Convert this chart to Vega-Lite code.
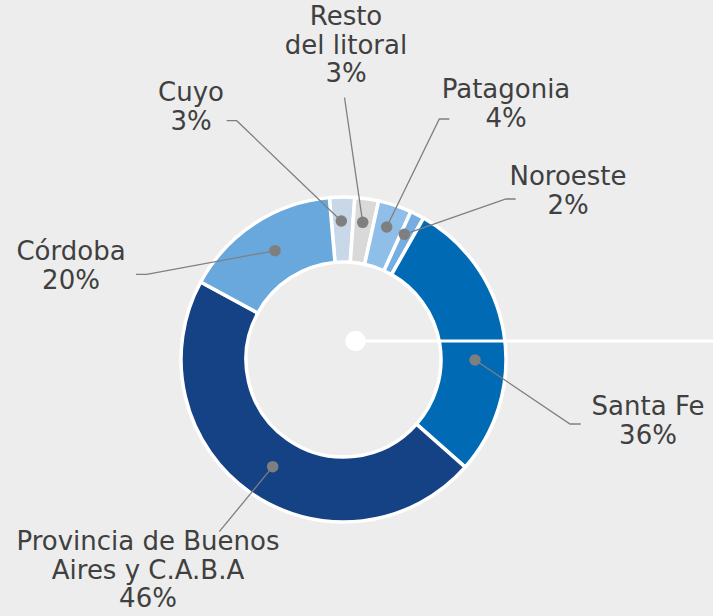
{
  "$schema": "https://vega.github.io/schema/vega-lite/v6.json",
  "width": 713,
  "height": 616,
  "padding": 0,
  "autosize": {"type": "none"},
  "background": "#ededed",
  "config": {"view": {"stroke": null}},
  "datasets": {
    "slices": [
      {"region": "Cuyo", "deg": 9, "ord": 1},
      {"region": "Resto del litoral", "deg": 8.5, "ord": 2},
      {"region": "Patagonia", "deg": 12, "ord": 3},
      {"region": "Noroeste", "deg": 5, "ord": 4},
      {"region": "Santa Fe", "deg": 102, "ord": 5},
      {"region": "Provincia de Buenos Aires y C.A.B.A", "deg": 167, "ord": 6},
      {"region": "Córdoba", "deg": 56.5, "ord": 7}
    ],
    "leaders": [
      {"region": "Cuyo", "i": 0, "x": 341.3, "y": 221},
      {"region": "Cuyo", "i": 1, "x": 236.7, "y": 120.7},
      {"region": "Cuyo", "i": 2, "x": 226.7, "y": 120.7},
      {"region": "Resto del litoral", "i": 0, "x": 362.7, "y": 222.3},
      {"region": "Resto del litoral", "i": 1, "x": 344.5, "y": 97.5},
      {"region": "Patagonia", "i": 0, "x": 386.7, "y": 227},
      {"region": "Patagonia", "i": 1, "x": 439.3, "y": 119},
      {"region": "Patagonia", "i": 2, "x": 449.3, "y": 119},
      {"region": "Noroeste", "i": 0, "x": 404.3, "y": 234.3},
      {"region": "Noroeste", "i": 1, "x": 506, "y": 199},
      {"region": "Noroeste", "i": 2, "x": 515.7, "y": 199},
      {"region": "Córdoba", "i": 0, "x": 275, "y": 250.7},
      {"region": "Córdoba", "i": 1, "x": 146.7, "y": 274.3},
      {"region": "Córdoba", "i": 2, "x": 136, "y": 274.3},
      {"region": "Santa Fe", "i": 0, "x": 475, "y": 360},
      {"region": "Santa Fe", "i": 1, "x": 570, "y": 424},
      {"region": "Santa Fe", "i": 2, "x": 580.7, "y": 424},
      {"region": "Provincia de Buenos Aires y C.A.B.A", "i": 0, "x": 272.7, "y": 466.7},
      {"region": "Provincia de Buenos Aires y C.A.B.A", "i": 1, "x": 219.3, "y": 531.7}
    ],
    "labels": [
      {"label": "Resto\ndel litoral\n3%", "x": 346, "y": 25},
      {"label": "Cuyo\n3%", "x": 191, "y": 101},
      {"label": "Patagonia\n4%", "x": 506, "y": 98},
      {"label": "Noroeste\n2%", "x": 568, "y": 185},
      {"label": "Córdoba\n20%", "x": 71, "y": 260},
      {"label": "Santa Fe\n36%", "x": 648, "y": 415},
      {"label": "Provincia de Buenos\nAires y C.A.B.A\n46%", "x": 148, "y": 550}
    ]
  },
  "layer": [
    {
      "data": {"name": "slices"},
      "mark": {"type": "arc", "outerRadius": 162.5, "innerRadius": 97.5, "stroke": "#ffffff", "strokeWidth": 3.5},
      "encoding": {
        "x": {"datum": 343.5, "type": "quantitative", "scale": {"domain": [0, 713], "nice": false, "zero": false}, "axis": null},
        "y": {"datum": 359.5, "type": "quantitative", "scale": {"domain": [0, 616], "nice": false, "zero": false, "reverse": true}, "axis": null},
        "theta": {"field": "deg", "type": "quantitative", "stack": true, "scale": {"range": [-0.0873, 6.1959]}},
        "order": {"field": "ord", "type": "quantitative"},
        "color": {
          "field": "region", "type": "nominal", "legend": null,
          "scale": {
            "domain": ["Cuyo", "Resto del litoral", "Patagonia", "Noroeste", "Santa Fe", "Provincia de Buenos Aires y C.A.B.A", "Córdoba"],
            "range": ["#c9d8e9", "#d9d9d9", "#8fbfe8", "#76aee2", "#006ab4", "#154284", "#69a8dc"]
          }
        }
      }
    },
    {
      "data": {"values": [{}]},
      "mark": {"type": "rule", "color": "#ffffff", "strokeWidth": 3},
      "encoding": {
        "x": {"datum": 355.5, "type": "quantitative"},
        "x2": {"datum": 713},
        "y": {"datum": 341, "type": "quantitative"}
      }
    },
    {
      "data": {"values": [{}]},
      "mark": {"type": "point", "filled": true, "color": "#ffffff", "opacity": 1, "size": 415},
      "encoding": {
        "x": {"datum": 355.5, "type": "quantitative"},
        "y": {"datum": 341, "type": "quantitative"}
      }
    },
    {
      "data": {"name": "leaders"},
      "mark": {"type": "line", "color": "#7f7f7f", "strokeWidth": 1.3},
      "encoding": {
        "x": {"field": "x", "type": "quantitative"},
        "y": {"field": "y", "type": "quantitative"},
        "detail": {"field": "region", "type": "nominal"},
        "order": {"field": "i", "type": "quantitative"}
      }
    },
    {
      "data": {"name": "leaders"},
      "transform": [{"filter": "datum.i == 0"}],
      "mark": {"type": "point", "filled": true, "color": "#7f7f7f", "opacity": 1, "size": 133},
      "encoding": {
        "x": {"field": "x", "type": "quantitative"},
        "y": {"field": "y", "type": "quantitative"}
      }
    },
    {
      "data": {"name": "labels"},
      "mark": {"type": "text", "font": "DejaVu Sans", "fontSize": 26, "color": "#404040", "align": "center", "baseline": "alphabetic", "lineBreak": "\n", "lineHeight": 28.5},
      "encoding": {
        "x": {"field": "x", "type": "quantitative"},
        "y": {"field": "y", "type": "quantitative"},
        "text": {"field": "label"}
      }
    }
  ]
}
